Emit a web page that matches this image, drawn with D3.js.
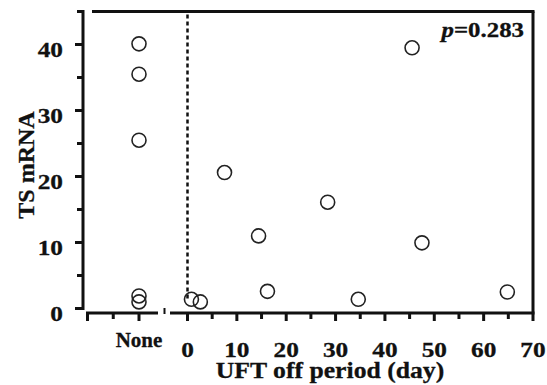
<!DOCTYPE html>
<html>
<head>
<meta charset="utf-8">
<script src="https://cdn.jsdelivr.net/npm/d3@7"></script>
<style>
  html, body { margin: 0; padding: 0; background: #fff; }
  text { font-family: "Liberation Serif", "Times New Roman", serif; font-weight: bold; fill: #111; stroke: #111; stroke-width: 0.3; }
</style>
</head>
<body>
<svg id="chart" width="547" height="385"></svg>
<script>
// ---- data ----
const noneValues = [40.1, 35.5, 25.5, 1.9, 1.0];          // TS mRNA, no UFT off period
const offDays    = [0.8, 2.6, 7.5, 14.4, 16.2, 28.4, 34.6, 45.5, 47.5, 64.8];
const offValues  = [1.4, 1.0, 20.6, 11.0, 2.6, 16.1, 1.4, 39.5, 9.95, 2.5];
const xTicks     = [0, 10, 20, 30, 40, 50, 60, 70];
const xMinorTicks= [5, 15, 25, 35, 45, 55, 65];
const yTicks     = [0, 10, 20, 30, 40];
const yMinorTicks= [5, 15, 25, 35, 45];
const noneLabel  = "None";
const xTitle     = "UFT off period (day)";
const yTitle     = "TS mRNA";
const pText      = "0.283";

const svg = d3.select("#chart");

// scales
const y = d3.scaleLinear().domain([0, 45]).range([308.5, 11.5]);
const x = d3.scaleLinear().domain([0, 70]).range([187.5, 533]);
const xNone = d3.scaleLinear().domain([-2, 0]).range([87.5, 139]);

const ink = "#111";
const stretch = "scale(1.15,1)";

// y axis
const yAxis = svg.append("g");
yAxis.append("line").attr("x1", 83).attr("x2", 83)
  .attr("y1", y(45) - 1.5).attr("y2", y(0) + 1.5)
  .attr("stroke", ink).attr("stroke-width", 3);
yAxis.selectAll(".ymaj").data(yTicks).enter().append("line")
  .attr("x1", 75).attr("x2", 83).attr("y1", d => y(d)).attr("y2", d => y(d))
  .attr("stroke", ink).attr("stroke-width", 3);
yAxis.selectAll(".ymin").data(yMinorTicks).enter().append("line")
  .attr("x1", 77).attr("x2", 83).attr("y1", d => y(d)).attr("y2", d => y(d))
  .attr("stroke", ink).attr("stroke-width", 3);
yAxis.selectAll(".ylab").data(yTicks).enter().append("g")
  .attr("transform", d => `translate(63,${y(d) + 12.5})`)
  .append("text").attr("transform", stretch)
  .attr("text-anchor", "end").attr("font-size", 22)
  .text(d => d);

// frame (top and right)
svg.append("line").attr("x1", 92).attr("x2", x(70) + 1.5)
  .attr("y1", y(45)).attr("y2", y(45)).attr("stroke", ink).attr("stroke-width", 3);
svg.append("line").attr("x1", x(70)).attr("x2", x(70))
  .attr("y1", y(45)).attr("y2", 313).attr("stroke", ink).attr("stroke-width", 3);

// x axis: left (None) segment
const axY = 313;
svg.append("line").attr("x1", xNone(-2) - 1.5).attr("x2", 158)
  .attr("y1", axY).attr("y2", axY).attr("stroke", ink).attr("stroke-width", 3);
svg.selectAll(".nt").data([-2, -1, 0]).enter().append("line")
  .attr("x1", d => xNone(d)).attr("x2", d => xNone(d))
  .attr("y1", axY).attr("y2", d => d === -1 ? axY + 6 : axY + 8)
  .attr("stroke", ink).attr("stroke-width", 3);
// break mark
svg.append("line").attr("x1", 164.5).attr("x2", 164.5)
  .attr("y1", axY - 5).attr("y2", axY + 1).attr("stroke", ink).attr("stroke-width", 2);
svg.append("g").attr("transform", `translate(${xNone(0)},347)`)
  .append("text").attr("transform", "scale(1.05,1)")
  .attr("text-anchor", "middle").attr("font-size", 20).text(noneLabel);

// x axis: right segment
svg.append("line").attr("x1", 170).attr("x2", x(70) + 1.5)
  .attr("y1", axY).attr("y2", axY).attr("stroke", ink).attr("stroke-width", 3);
svg.selectAll(".xmaj").data(xTicks).enter().append("line")
  .attr("x1", d => x(d)).attr("x2", d => x(d))
  .attr("y1", axY).attr("y2", axY + 8).attr("stroke", ink).attr("stroke-width", 3);
svg.selectAll(".xmin").data(xMinorTicks).enter().append("line")
  .attr("x1", d => x(d)).attr("x2", d => x(d))
  .attr("y1", axY).attr("y2", axY + 6).attr("stroke", ink).attr("stroke-width", 3);
svg.selectAll(".xlab").data(xTicks).enter().append("g")
  .attr("transform", d => `translate(${x(d)},357)`)
  .append("text").attr("transform", stretch)
  .attr("text-anchor", "middle").attr("font-size", 22).text(d => d);

// dashed reference line at day 0
svg.append("line").attr("x1", x(0)).attr("x2", x(0))
  .attr("y1", y(45) + 3).attr("y2", 300)
  .attr("stroke", ink).attr("stroke-width", 2.5).attr("stroke-dasharray", "4,3");

// titles
svg.append("g").attr("transform", "translate(330,378)")
  .append("text").attr("transform", "scale(1.07,1)")
  .attr("text-anchor", "middle").attr("font-size", 24).text(xTitle);
svg.append("text").attr("transform", "translate(34,165) rotate(-90)")
  .attr("text-anchor", "middle").attr("font-size", 24).text(yTitle);

// p value
const pt = svg.append("g").attr("transform", "translate(524,37)")
  .append("text").attr("transform", "scale(1.13,1)")
  .attr("text-anchor", "end").attr("font-size", 22);
pt.append("tspan").attr("font-style", "italic").text("p");
pt.append("tspan").text("=" + pText);

// points
const circ = (sel) => sel.attr("r", 7).attr("fill", "none")
  .attr("stroke", "#222").attr("stroke-width", 1.6);
svg.selectAll(".pn").data(noneValues).enter().append("circle")
  .attr("cx", xNone(0)).attr("cy", d => y(d)).call(circ);
svg.selectAll(".po").data(offDays.map((d, i) => [d, offValues[i]])).enter().append("circle")
  .attr("cx", d => x(d[0])).attr("cy", d => y(d[1])).call(circ);
</script>
</body>
</html>
